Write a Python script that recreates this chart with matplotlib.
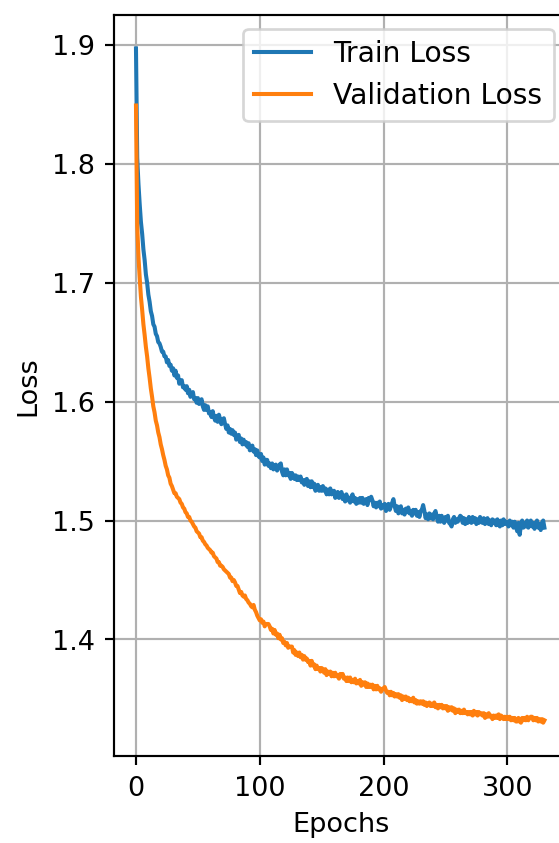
import numpy as np
import matplotlib
matplotlib.use("Agg")
import matplotlib.pyplot as plt

# Per-epoch losses (epochs 0..330)
train_loss = [
    1.897, 1.805, 1.783, 1.766, 1.751, 1.741, 1.728, 1.719, 1.707, 1.700,
    1.690, 1.684, 1.676, 1.672, 1.665, 1.663, 1.657, 1.655, 1.650, 1.649,
    1.646, 1.642, 1.642, 1.638, 1.638, 1.633, 1.635, 1.630, 1.631, 1.626,
    1.628, 1.622, 1.626, 1.620, 1.622, 1.615, 1.618, 1.618, 1.612, 1.613,
    1.610, 1.613, 1.607, 1.610, 1.604, 1.607, 1.608, 1.602, 1.603, 1.599,
    1.603, 1.598, 1.600, 1.602, 1.596, 1.593, 1.597, 1.593, 1.596, 1.590,
    1.591, 1.587, 1.592, 1.587, 1.584, 1.588, 1.583, 1.589, 1.585, 1.581,
    1.585, 1.586, 1.581, 1.577, 1.580, 1.574, 1.577, 1.573, 1.576, 1.572,
    1.574, 1.568, 1.571, 1.572, 1.566, 1.569, 1.564, 1.568, 1.564, 1.566,
    1.562, 1.565, 1.559, 1.562, 1.563, 1.558, 1.560, 1.555, 1.559, 1.554,
    1.553, 1.556, 1.550, 1.553, 1.547, 1.551, 1.551, 1.546, 1.548, 1.544,
    1.548, 1.543, 1.546, 1.547, 1.542, 1.544, 1.547, 1.548, 1.541, 1.538,
    1.543, 1.538, 1.543, 1.538, 1.540, 1.535, 1.540, 1.538, 1.535, 1.538,
    1.534, 1.537, 1.534, 1.537, 1.532, 1.534, 1.530, 1.534, 1.535, 1.529,
    1.533, 1.528, 1.533, 1.528, 1.531, 1.525, 1.529, 1.530, 1.525, 1.528,
    1.525, 1.529, 1.525, 1.527, 1.522, 1.526, 1.522, 1.527, 1.522, 1.524,
    1.525, 1.519, 1.523, 1.524, 1.519, 1.521, 1.524, 1.518, 1.521, 1.516,
    1.522, 1.517, 1.519, 1.515, 1.520, 1.522, 1.516, 1.519, 1.514, 1.518,
    1.515, 1.519, 1.515, 1.519, 1.514, 1.517, 1.518, 1.513, 1.519, 1.517,
    1.520, 1.517, 1.512, 1.515, 1.511, 1.515, 1.512, 1.516, 1.510, 1.513,
    1.511, 1.514, 1.508, 1.512, 1.514, 1.509, 1.512, 1.515, 1.518, 1.512,
    1.508, 1.512, 1.506, 1.510, 1.512, 1.506, 1.509, 1.505, 1.510, 1.507,
    1.511, 1.506, 1.508, 1.504, 1.509, 1.506, 1.509, 1.504, 1.507, 1.503,
    1.508, 1.509, 1.513, 1.508, 1.502, 1.505, 1.501, 1.506, 1.502, 1.505,
    1.501, 1.506, 1.508, 1.503, 1.499, 1.504, 1.499, 1.504, 1.500, 1.498,
    1.503, 1.500, 1.504, 1.498, 1.497, 1.495, 1.501, 1.503, 1.498, 1.501,
    1.499, 1.502, 1.504, 1.503, 1.498, 1.502, 1.497, 1.501, 1.498, 1.503,
    1.501, 1.498, 1.503, 1.499, 1.502, 1.497, 1.501, 1.498, 1.503, 1.499,
    1.498, 1.502, 1.497, 1.500, 1.502, 1.497, 1.500, 1.496, 1.501, 1.498,
    1.500, 1.496, 1.501, 1.497, 1.495, 1.500, 1.496, 1.501, 1.497, 1.499,
    1.498, 1.495, 1.500, 1.496, 1.499, 1.494, 1.499, 1.495, 1.491, 1.498,
    1.488, 1.496, 1.500, 1.494, 1.498, 1.495, 1.500, 1.494, 1.497, 1.500,
    1.495, 1.498, 1.493, 1.497, 1.500, 1.494, 1.497, 1.492, 1.498, 1.500, 1.494,
]

val_loss = [
    1.849, 1.748, 1.722, 1.704, 1.688, 1.677, 1.665, 1.656, 1.646, 1.638,
    1.628, 1.620, 1.611, 1.604, 1.596, 1.591, 1.584, 1.580, 1.574, 1.570,
    1.564, 1.560, 1.555, 1.551, 1.546, 1.543, 1.538, 1.536, 1.531, 1.529,
    1.526, 1.523, 1.523, 1.520, 1.519, 1.518, 1.515, 1.514, 1.511, 1.510,
    1.507, 1.506, 1.503, 1.503, 1.500, 1.499, 1.497, 1.495, 1.494, 1.491,
    1.490, 1.489, 1.486, 1.486, 1.483, 1.482, 1.480, 1.479, 1.477, 1.476,
    1.475, 1.473, 1.473, 1.470, 1.469, 1.468, 1.465, 1.465, 1.462, 1.462,
    1.461, 1.459, 1.458, 1.457, 1.456, 1.455, 1.452, 1.452, 1.449, 1.450,
    1.448, 1.445, 1.445, 1.442, 1.439, 1.440, 1.437, 1.436, 1.437, 1.434,
    1.433, 1.431, 1.430, 1.428, 1.427, 1.429, 1.425, 1.423, 1.420, 1.418,
    1.416, 1.417, 1.414, 1.415, 1.411, 1.413, 1.413, 1.413, 1.411, 1.408,
    1.409, 1.405, 1.408, 1.404, 1.405, 1.401, 1.404, 1.400, 1.401, 1.397,
    1.398, 1.395, 1.397, 1.393, 1.394, 1.394, 1.394, 1.389, 1.391, 1.387,
    1.389, 1.386, 1.389, 1.385, 1.387, 1.383, 1.386, 1.383, 1.384, 1.381,
    1.382, 1.378, 1.382, 1.378, 1.379, 1.375, 1.378, 1.375, 1.376, 1.373,
    1.376, 1.375, 1.372, 1.375, 1.370, 1.373, 1.371, 1.373, 1.369, 1.372,
    1.369, 1.372, 1.369, 1.370, 1.367, 1.371, 1.369, 1.371, 1.367, 1.368,
    1.365, 1.368, 1.365, 1.368, 1.364, 1.366, 1.364, 1.367, 1.363, 1.365,
    1.363, 1.366, 1.361, 1.364, 1.362, 1.364, 1.360, 1.363, 1.360, 1.362,
    1.360, 1.362, 1.358, 1.361, 1.358, 1.361, 1.358, 1.359, 1.356, 1.358,
    1.359, 1.360, 1.357, 1.355, 1.356, 1.353, 1.356, 1.353, 1.355, 1.352,
    1.354, 1.352, 1.354, 1.351, 1.353, 1.349, 1.352, 1.350, 1.352, 1.349,
    1.351, 1.348, 1.350, 1.348, 1.351, 1.347, 1.349, 1.346, 1.348, 1.346,
    1.348, 1.346, 1.348, 1.345, 1.347, 1.344, 1.346, 1.347, 1.344, 1.346,
    1.344, 1.347, 1.343, 1.345, 1.342, 1.345, 1.343, 1.345, 1.342, 1.344,
    1.342, 1.344, 1.340, 1.343, 1.341, 1.343, 1.340, 1.342, 1.338, 1.341,
    1.339, 1.341, 1.338, 1.340, 1.338, 1.341, 1.338, 1.339, 1.337, 1.339,
    1.337, 1.339, 1.336, 1.340, 1.337, 1.339, 1.336, 1.339, 1.337, 1.338,
    1.336, 1.338, 1.334, 1.337, 1.335, 1.338, 1.335, 1.336, 1.333, 1.336,
    1.334, 1.336, 1.334, 1.337, 1.333, 1.336, 1.335, 1.333, 1.335, 1.333,
    1.335, 1.333, 1.335, 1.332, 1.334, 1.332, 1.334, 1.331, 1.331, 1.334,
    1.331, 1.330, 1.334, 1.332, 1.334, 1.332, 1.335, 1.332, 1.334, 1.335,
    1.335, 1.332, 1.334, 1.332, 1.334, 1.331, 1.333, 1.331, 1.333, 1.330, 1.332,
]

series_labels = ["Train Loss", "Validation Loss"]
epochs = np.arange(len(train_loss))

DPI = 195
fig = plt.figure(figsize=(559.3 / DPI, 843.3 / DPI), dpi=DPI)
ax = fig.add_axes([0.2044, 0.1027, 0.8106, 0.8795])

ax.plot(epochs, train_loss, color="#1f77b4", label=series_labels[0])
ax.plot(epochs, val_loss, color="#ff7f0e", label=series_labels[1])

ax.set_xlim(-17.5, 348.8)
ax.set_xlabel("Epochs")
ax.set_ylabel("Loss")
ax.grid(True)
ax.legend(loc="upper right", fontsize=10.4)

fig.savefig("out.png", dpi=DPI)
